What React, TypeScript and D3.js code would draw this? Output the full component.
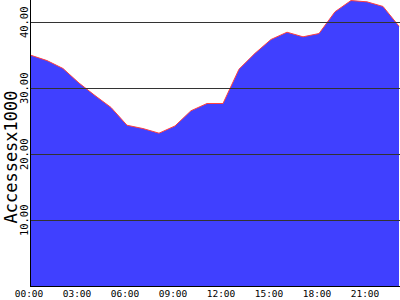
import React from "react";
import * as d3 from "d3";

const hours = [0, 1, 2, 3, 4, 5, 6, 7, 8, 9, 10, 11, 12, 13, 14, 15, 16, 17, 18, 19, 20, 21, 22, 23];
const accesses = [35.0, 34.2, 33.0, 30.8, 28.9, 27.1, 24.4, 23.9, 23.2, 24.3, 26.6, 27.7, 27.7, 32.9, 35.3, 37.4, 38.5, 37.8, 38.3, 41.6, 43.3, 43.1, 42.4, 39.4];
const yTicks = [10, 20, 30, 40];
const xTickHours = [0, 3, 6, 9, 12, 15, 18, 21];
const xTickLabels = ["00:00", "03:00", "06:00", "09:00", "12:00", "15:00", "18:00", "21:00"];
const yLabel = "Accessesx1000";

export default function App() {
  const W = 400, H = 300;
  const left = 31, right = 399, top = 0, bottom = 286.3;
  const x = d3.scaleLinear().domain([0, 23]).range([left, right]);
  const y = d3.scaleLinear().domain([0, 43.38]).range([bottom, top]);
  const data = hours.map((h, i) => ({ h, v: accesses[i] }));
  const area = d3.area<{ h: number; v: number }>().x(d => x(d.h)).y0(y(0)).y1(d => y(d.v));
  const line = d3.line<{ h: number; v: number }>().x(d => x(d.h)).y(d => y(d.v));
  return (
    <svg width={W} height={H} style={{ position: "absolute", left: 0, top: 0, background: "#fff" }}>
      <path d={area(data) || ""} fill="#4040ff" />
      <path d={line(data) || ""} fill="none" stroke="#ff4040" strokeWidth={1} />
      {yTicks.map(t => (
        <line key={t} x1={left} x2={W} y1={Math.round(y(t)) + 0.5} y2={Math.round(y(t)) + 0.5} stroke="#333" strokeWidth={1} />
      ))}
      <line x1={30.5} x2={30.5} y1={0} y2={287} stroke="#000" strokeWidth={1} />
      <line x1={30} x2={W} y1={286.5} y2={286.5} stroke="#000" strokeWidth={1} />
      {yTicks.map(t => (
        <text key={t} transform={`translate(28,${y(t)}) rotate(-90)`} textAnchor="middle" fontFamily="DejaVu Sans Mono" fontSize={10.5} fill="#000">
          {t.toFixed(2)}
        </text>
      ))}
      {xTickHours.map((h, i) => (
        <text key={h} x={x(h) - 2} y={297} textAnchor="middle" fontFamily="DejaVu Sans Mono" fontSize={9.5} fill="#000">
          {xTickLabels[i]}
        </text>
      ))}
      <text transform={`translate(17,${157}) rotate(-90)`} textAnchor="middle" fontFamily="DejaVu Sans Mono" fontSize={17} fill="#000">
        {yLabel}
      </text>
    </svg>
  );
}
